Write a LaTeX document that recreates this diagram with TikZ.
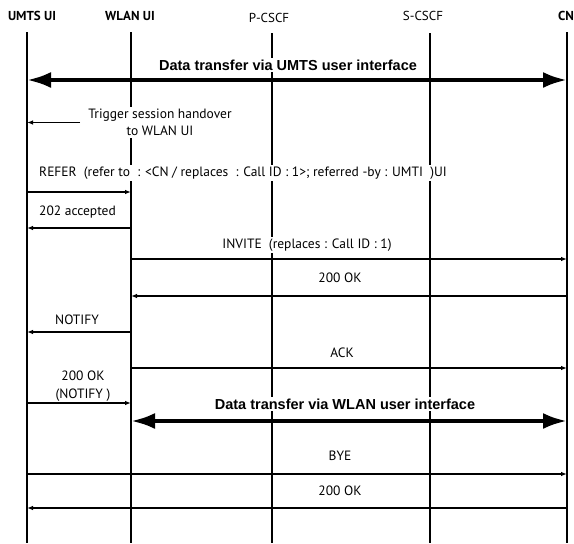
\documentclass[tikz,border=0pt]{standalone}
\usepackage{fontspec}
\setmainfont{PT Sans}
\newfontfamily\arialfont{Liberation Sans}
\usetikzlibrary{arrows.meta, calc}
\tikzset{
  cabeca/.style={font=\fontsize{13}{15}\selectfont, inner sep=1pt},
  rotulo/.style={font=\fontsize{13.5}{17.5}\selectfont, fill=white, inner sep=2pt, align=center},
  dadosrot/.style={font=\arialfont\bfseries\fontsize{14.5}{17}\selectfont, fill=white, inner sep=2pt},
  vida/.style={line width=1.2pt},
  msg/.style={-{Latex[length=6pt,width=4.5pt]}, line width=1.1pt},
  dados/.style={{Latex[length=24pt,width=16pt]}-{Latex[length=24pt,width=16pt]}, line width=4pt},
}
\begin{document}
\begin{tikzpicture}[x=1pt, y=-1pt]
\useasboundingbox (0,0) rectangle (574,544);

% cabecalhos
\node[cabeca, font=\fontsize{13}{15}\selectfont\bfseries] (hUmts) at (32,16) {UMTS UI};
\node[cabeca, font=\fontsize{13}{15}\selectfont\bfseries] (hWlan) at (130,16) {WLAN UI};
\node[cabeca] (hPcscf) at (269,18) {P-CSCF};
\node[cabeca] (hScscf) at (423,16) {S-CSCF};
\node[cabeca, font=\fontsize{13}{15}\selectfont\bfseries, anchor=west] (hCn) at (557,16) {CN};

% linhas de vida
\coordinate (umts) at (27,32);
\coordinate (wlan) at (131,32);
\coordinate (pcscf) at (272,33);
\coordinate (scscf) at (430,33);
\coordinate (cn) at (567,32);
\coordinate (fim) at (0,543);
\draw[vida] (umts) -- (umts |- fim);
\draw[vida] (wlan) -- (wlan |- fim);
\draw[vida] (pcscf) -- (pcscf |- fim);
\draw[vida] (scscf) -- (scscf |- fim);
\draw[vida] (cn) -- (cn |- fim);

% dados via UMTS
\node[dadosrot] (dUmts) at (288,65) {Data transfer via UMTS user interface};
\draw[dados] (umts |- 0,80) -- (cn |- 0,80);

% handover
\node[rotulo, inner xsep=8pt] (trigger) at (160,122.5)
{Trigger session handover\\
to WLAN UI};
\draw[msg] (trigger.west) -- (umts |- trigger.west);

\node[rotulo] (refer) at (243,173)
{REFER\ \ (refer to\ \ : <CN / replaces\ \ : Call ID : 1>; referred -by : UMTI\ \ )UI};
\draw[msg] (umts |- 0,192) -- (wlan |- 0,192);

\node[rotulo] (aceito) at (77.5,212) {202 accepted};
\draw[msg] (wlan |- 0,228) -- (umts |- 0,228);

\node[rotulo] (invite) at (307,245) {INVITE\ \ (replaces : Call ID : 1)};
\draw[msg] (wlan |- 0,259) -- (cn |- 0,259);

\node[rotulo] (ok1) at (340,278) {200 OK};
\draw[msg] (cn |- 0,296) -- (wlan |- 0,296);

\node[rotulo] (notify) at (77,320) {NOTIFY};
\draw[msg] (wlan |- 0,332) -- (umts |- 0,332);

\node[rotulo] (ack) at (342,353) {ACK};
\draw[msg] (wlan |- 0,368) -- (cn |- 0,368);

\node[rotulo] (ok2) at (83,386)
{200 OK\\
(NOTIFY\ )};
\draw[msg] (umts |- 0,403) -- (wlan |- 0,403);

% dados via WLAN
\node[dadosrot] (dWlan) at (345,404) {Data transfer via WLAN user interface};
\draw[dados] (wlan |- 0,421) -- (cn |- 0,421);

% encerramento
\node[rotulo] (bye) at (340,456) {BYE};
\draw[msg] (umts |- 0,474) -- (cn |- 0,474);

\node[rotulo] (ok3) at (340,491) {200 OK};
\draw[msg] (cn |- 0,508) -- (umts |- 0,508);

\end{tikzpicture}
\end{document}
